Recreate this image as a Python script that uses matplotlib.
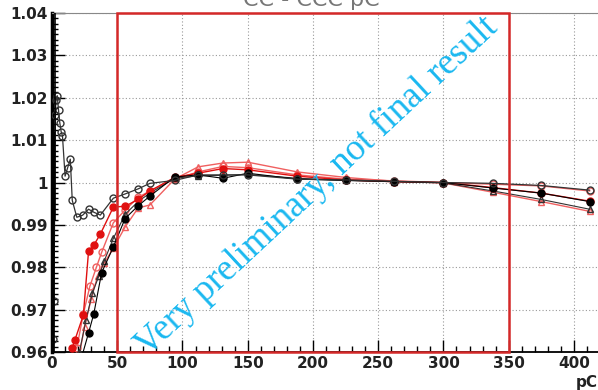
import numpy as np
from matplotlib import pyplot as plt
from matplotlib.patches import Rectangle
from matplotlib.ticker import MultipleLocator

# open black circles (low-x structure)
xA = [1, 1.5, 2.5, 3, 4, 5, 6, 7, 8, 10, 12, 14, 15.5, 19, 23.5, 28, 32, 37, 47, 56, 66, 75,
      94, 112, 131, 150, 188, 225, 262, 300, 338, 375, 412]
yA = [0.963, 0.972, 1.016, 1.0195, 1.0205, 1.017, 1.014, 1.012, 1.011, 1.0015, 1.0035, 1.0055,
      0.9958, 0.9918, 0.9923, 0.9937, 0.993, 0.9923, 0.9963, 0.9973, 0.9985, 0.9998,
      1.0005, 1.0018, 1.0018, 1.0018, 1.0008, 1.0006, 1.0003, 1.0, 0.9998, 0.9993, 0.9982]
errA = [0.04, 0.04, 0.025]

# filled black circles
xB = [22, 28, 32, 38, 47, 56, 66, 75, 94, 112, 131, 150, 188, 225, 262, 300, 338, 375, 412]
yB = [0.958, 0.9645, 0.969, 0.9787, 0.9848, 0.9915, 0.9945, 0.9968, 1.0013, 1.0018, 1.001,
      1.0022, 1.0008, 1.0005, 1.0002, 1.0, 0.9987, 0.9975, 0.9955]

# filled red circles
xC = [15.5, 17.5, 24, 28, 32, 37, 47, 56, 66, 75, 94, 112, 131, 150, 188, 225, 262, 300, 338,
      375, 412]
yC = [0.961, 0.9628, 0.9687, 0.9838, 0.9852, 0.9878, 0.9942, 0.9944, 0.996, 0.998, 1.0012,
      1.0022, 1.0033, 1.003, 1.0015, 1.0006, 1.0002, 1.0, 0.9988, 0.9975, 0.9956]

# open red triangles
xD = [20, 25, 30, 35, 40, 47, 56, 66, 75, 94, 112, 131, 150, 188, 225, 262, 300, 338, 375, 412]
yD = [0.958, 0.966, 0.9725, 0.978, 0.981, 0.9845, 0.9895, 0.994, 0.9947, 1.0008, 1.0037,
      1.0046, 1.0048, 1.0025, 1.0012, 1.0003, 0.9999, 0.9977, 0.9955, 0.9932]

# open black triangles
xE = [21, 26, 31, 36, 40, 47, 56, 66, 75, 94, 112, 131, 150, 188, 225, 262, 300, 338, 375, 412]
yE = [0.96, 0.9675, 0.974, 0.978, 0.9815, 0.9868, 0.9925, 0.9955, 0.9975, 1.001, 1.0016,
      1.0017, 1.0019, 1.001, 1.0005, 1.0002, 0.9999, 0.998, 0.996, 0.9937]

# open red circles
xF = [19, 24, 29, 34, 38, 47, 56, 66, 75, 94, 112, 131, 150, 188, 225, 262, 300, 338, 375, 412]
yF = [0.961, 0.969, 0.9755, 0.98, 0.9835, 0.9905, 0.9935, 0.9965, 0.998, 1.0008, 1.0025,
      1.0038, 1.0035, 1.0018, 1.0008, 1.0004, 1.0, 0.9996, 0.9992, 0.998]

xticks = [0, 50, 100, 150, 200, 250, 300, 350, 400]
yticks = [0.96, 0.97, 0.98, 0.99, 1.0, 1.01, 1.02, 1.03, 1.04]
ytick_labels = ['0.96', '0.97', '0.98', '0.99', '1', '1.01', '1.02', '1.03', '1.04']

fig = plt.figure(figsize=(5.98, 3.90), dpi=100)
ax = fig.add_axes([0.087, 0.0974, 0.96, 0.8692])

ax.set_xlim(0, 440)
ax.set_ylim(0.96, 1.04)

ms = 5
red = '#e01010'
pink = '#f06060'

ax.plot(xD, yD, '-^', color=pink, mfc='none', mec=pink, ms=ms, lw=1, zorder=3)
ax.plot(xF, yF, '-o', color=pink, mfc='none', mec=pink, ms=ms, lw=1, zorder=3)
ax.plot(xE, yE, '-^', color='#333333', mfc='none', mec='#333333', ms=ms, lw=0.8, zorder=4)
ax.plot(xC, yC, '-o', color=red, mfc=red, mec=red, ms=ms, lw=1, zorder=4)
ax.plot(xB, yB, '-o', color='black', mfc='black', mec='black', ms=ms, lw=0.8, zorder=5)
ax.plot(xA, yA, '-o', color='#333333', mfc='none', mec='#333333', ms=ms, lw=0.9, zorder=5)
ax.errorbar(xA[:len(errA)], yA[:len(errA)], yerr=errA, fmt='none', ecolor='black',
            elinewidth=1.2, zorder=5)

# red selection box
ax.add_patch(Rectangle((50, 0.96), 300, 0.08, fill=False, edgecolor='#d42828',
                       linewidth=1.8, zorder=6, clip_on=False))

ax.set_xticks(xticks)
ax.set_yticks(yticks)
ax.set_yticklabels(ytick_labels)
ax.xaxis.set_minor_locator(MultipleLocator(10))
ax.yaxis.set_minor_locator(MultipleLocator(0.00125))
ax.tick_params(which='major', direction='in', length=9, width=1, pad=3,
               labelsize=11, top=False, right=False)
ax.tick_params(which='minor', direction='in', length=4.5, width=1, top=False, right=False)
for lab in ax.get_xticklabels() + ax.get_yticklabels():
    lab.set_fontweight('bold')
    lab.set_color('#222222')

ax.grid(True, which='major', color='#999999', linestyle=(0, (1, 2)), linewidth=0.8)
ax.set_axisbelow(True)

ax.spines['left'].set_linewidth(2.5)
ax.spines['bottom'].set_linewidth(1.3)
ax.spines['top'].set_color('#888888')
ax.spines['right'].set_visible(False)

# axis title, cut off at the right edge
fig.text(0.962, 0.018, 'pC', fontsize=11, fontweight='bold', color='#222222',
         ha='left', va='center')
# histogram title, cut off at the top
fig.text(0.52, 1.0, 'CC - CCC pC', fontsize=16, color='#777777', ha='center', va='center')

# watermark
fig.text(148 / 598, 33 / 390, 'Very preliminary, not final result', fontsize=26.5,
         family='Liberation Serif', color='#1ab8f0', rotation=43, rotation_mode='anchor',
         ha='left', va='baseline', zorder=10)

fig.savefig('out.png', dpi=100)
